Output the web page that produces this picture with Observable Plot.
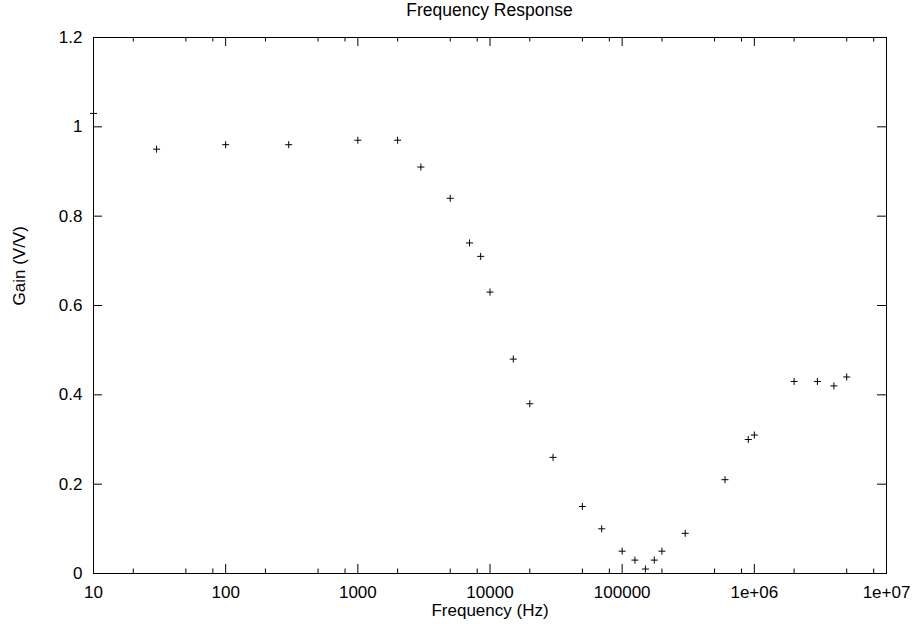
<!DOCTYPE html>
<html><head><meta charset="utf-8">
<script src="https://cdn.jsdelivr.net/npm/d3@7"></script>
<script src="https://cdn.jsdelivr.net/npm/@observablehq/plot@0.6"></script>
<style>
body{margin:0;background:#fff;}
#title{width:918px;height:26px;line-height:25px;box-sizing:border-box;padding-left:93px;padding-right:32px;text-align:center;font:17.5px "Liberation Sans",Arial,sans-serif;color:#000;white-space:nowrap;}
</style></head><body>
<div id="title">Frequency Response</div>
<div id="chart"></div>
<script>
const frequency = [10,30,100,300,1000,2000,3000,5000,7000,8500,10000,15000,20000,30000,50000,70000,100000,125000,150000,175000,200000,300000,600000,900000,1000000,2000000,3000000,4000000,5000000];
const gain = [1.03,0.95,0.96,0.96,0.97,0.97,0.91,0.84,0.74,0.71,0.63,0.48,0.38,0.26,0.15,0.10,0.05,0.03,0.01,0.03,0.05,0.09,0.21,0.30,0.31,0.43,0.43,0.42,0.44];
const xMajor = [10,100,1000,10000,100000,1000000,10000000];
const xLabels = ["10","100","1000","10000","100000","1e+06","1e+07"];
const xMinor = [20,50,80,200,500,800,2000,5000,8000,20000,50000,80000,200000,500000,800000,2000000,5000000,8000000];
const yTicks = [0,0.2,0.4,0.6,0.8,1.0,1.2];
const yLabels = ["0","0.2","0.4","0.6","0.8","1","1.2"];
const title = "Frequency Response";
const xTitle = "Frequency (Hz)";
const yTitle = "Gain (V/V)";

document.getElementById("title").textContent = title;
const points = frequency.map((f, i) => ({f, g: gain[i]}));
const font = '"Liberation Sans", Arial, sans-serif';
const W = 918, H = 606, mt = 11, mb = 59, ml = 93, mr = 32;
const fh = H - mt - mb, fw = W - ml - mr;
const major = 9, minor = 4.5;
const fs = 17;

const chart = Plot.plot({
  width: W, height: H, marginTop: mt, marginBottom: mb, marginLeft: ml, marginRight: mr,
  style: {fontFamily: font, fontSize: fs + "px", color: "#000", background: "#fff"},
  x: {type: "log", domain: [10, 1e7]},
  y: {domain: [0, 1.2]},
  marks: [
    Plot.axisX(xMajor, {anchor: "bottom", tickSize: 0, tickPadding: 12.5, tickFormat: d => xLabels[xMajor.indexOf(d)], label: null, fontSize: fs}),
    Plot.axisY(yTicks, {anchor: "left", tickSize: 0, tickPadding: 11, tickFormat: d => yLabels[yTicks.indexOf(d)], label: null, fontSize: fs}),
    Plot.tickX(xMajor, {x: d => d, insetTop: fh - major, stroke: "#000"}),
    Plot.tickX(xMajor, {x: d => d, insetBottom: fh - major, stroke: "#000"}),
    Plot.tickX(xMinor, {x: d => d, insetTop: fh - minor, stroke: "#000"}),
    Plot.tickX(xMinor, {x: d => d, insetBottom: fh - minor, stroke: "#000"}),
    Plot.tickY(yTicks, {y: d => d, insetRight: fw - major, stroke: "#000"}),
    Plot.tickY(yTicks, {y: d => d, insetLeft: fw - major, stroke: "#000"}),
    Plot.frame({stroke: "#000", strokeWidth: 1}),
    Plot.dot(points, {x: "f", y: "g", symbol: "plus", r: 2.4, stroke: "#000", strokeWidth: 1}),
    Plot.text([xTitle], {frameAnchor: "bottom", dy: 42, fontSize: fs, fill: "#000"}),
    Plot.text([yTitle], {frameAnchor: "left", dx: -73.5, rotate: -90, fontSize: fs, fill: "#000"})
  ]
});
document.getElementById("chart").appendChild(chart);
</script>
</body></html>
